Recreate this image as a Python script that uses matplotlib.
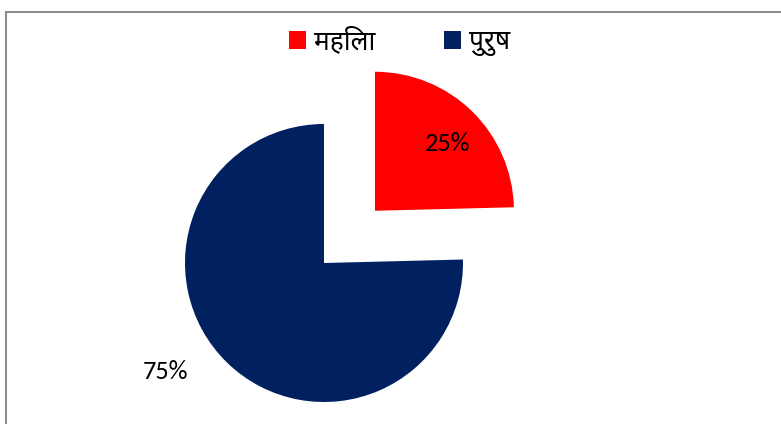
import matplotlib
matplotlib.use("Agg")
import matplotlib.pyplot as plt
from matplotlib.patches import Rectangle, Patch

# data
labels = ["महिला", "पुरुष"]
values = [24.6, 75.4]
colors = ["#FF0000", "#002060"]

fig = plt.figure(figsize=(7.81, 4.24), dpi=100)
ax = fig.add_axes([0, 0, 1, 1])

wedges, texts, autotexts = ax.pie(values, colors=colors, startangle=90, counterclock=False,
                                  explode=[0.525, 0], autopct="%1.0f%%", pctdistance=0.72,
                                  textprops=dict(fontsize=19, family=["Carlito", "Lato", "DejaVu Sans"]))
autotexts[0].set_position((0.89, 0.86))
autotexts[1].set_position((-1.14, -0.78))

# pie radius 139 px, centre at (324, 263) px from top-left
r = 139.0
ax.set_xlim(-324 / r, (781 - 324) / r)
ax.set_ylim(-(424 - 263) / r, 263 / r)
ax.set_aspect("auto")
ax.axis("off")

# chart frame (cut off at right and bottom)
fig.patches.append(Rectangle((6 / 781, -0.1), 1.2, 1.1 - 12 / 424, transform=fig.transFigure,
                             fill=False, edgecolor="#8c8c8c", lw=1.5))

handles = [Patch(facecolor=c, edgecolor="none") for c in colors]
fig.legend(handles, labels, loc="upper center", bbox_to_anchor=(0.512, 0.99), ncol=2, frameon=False,
           handlelength=0.65, handleheight=0.65, handletextpad=0.3, columnspacing=2.6,
           prop=dict(family=["Noto Sans Devanagari", "Hind", "DejaVu Sans"], size=19))

fig.savefig("out.png", dpi=100)
